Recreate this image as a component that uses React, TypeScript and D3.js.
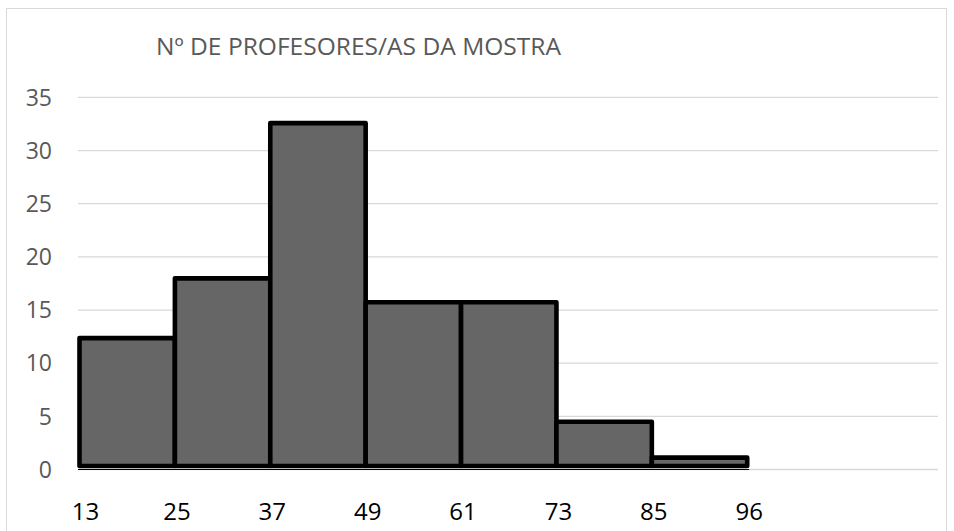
import React from "react";
import * as d3 from "d3";

const title = "Nº DE PROFESORES/AS DA MOSTRA";
const binStarts = ["13", "25", "37", "49", "61", "73", "85"];
const lastEdge = "96";
const slots = ["13", "25", "37", "49", "61", "73", "85", "s8", "s9"];
const values = [12.36, 17.98, 32.58, 15.73, 15.73, 4.49, 1.12];
const yTicks = [0, 5, 10, 15, 20, 25, 30, 35];

const W = 954;
const H = 531;
const plotLeft = 78;
const plotRight = 938;
const y0 = 469.5;
const yTop = 97.4;

export default function App() {
  const x = d3.scaleBand<string>().domain(slots).range([79.5, plotRight]).padding(0);
  const y = d3.scaleLinear().domain([0, 35]).range([y0, yTop]);
  const bw = x.bandwidth();
  const xEnd = (x(binStarts[binStarts.length - 1]) as number) + bw;
  const font = "'Open Sans', 'Noto Sans', sans-serif";
  const edges = [...binStarts.map((b) => ({ label: b, pos: x(b) as number })), { label: lastEdge, pos: xEnd }];

  return (
    <svg width={W} height={H} style={{ position: "absolute", left: 0, top: 0 }}>
      <rect x={0} y={0} width={W} height={H} fill="#ffffff" />
      <rect x={6.5} y={8.5} width={940} height={540} fill="none" stroke="#d9d9d9" strokeWidth={1} />
      <text x={156} y={55} fontFamily={font} fontSize={23} fill="#595959" textLength={405} lengthAdjust="spacingAndGlyphs">
        {title}
      </text>
      {yTicks.map((t) => (
        <g key={t}>
          <line x1={plotLeft} x2={plotRight} y1={y(t)} y2={y(t)} stroke="#d9d9d9" strokeWidth={1.3} />
          <text x={52} y={y(t)} dy="0.36em" textAnchor="end" fontFamily={font} fontSize={23} fill="#595959">
            {t}
          </text>
        </g>
      ))}
      {values.map((v, i) => (
        <rect
          key={i}
          x={x(binStarts[i]) as number}
          y={y(v)}
          width={bw}
          height={y0 - 3.5 - y(v)}
          fill="#666666"
          stroke="#000000"
          strokeWidth={4.6}
          strokeLinejoin="round"
        />
      ))}
      <line x1={plotLeft} x2={xEnd + 2} y1={y0} y2={y0} stroke="#000000" strokeWidth={1.2} />
      {edges.map((e, i) => (
        <text
          key={e.label}
          x={i === 0 ? e.pos + 6 : e.pos + 2}
          y={520}
          textAnchor="middle"
          fontFamily={font}
          fontSize={24}
          fill="#000000"
        >
          {e.label}
        </text>
      ))}
    </svg>
  );
}
